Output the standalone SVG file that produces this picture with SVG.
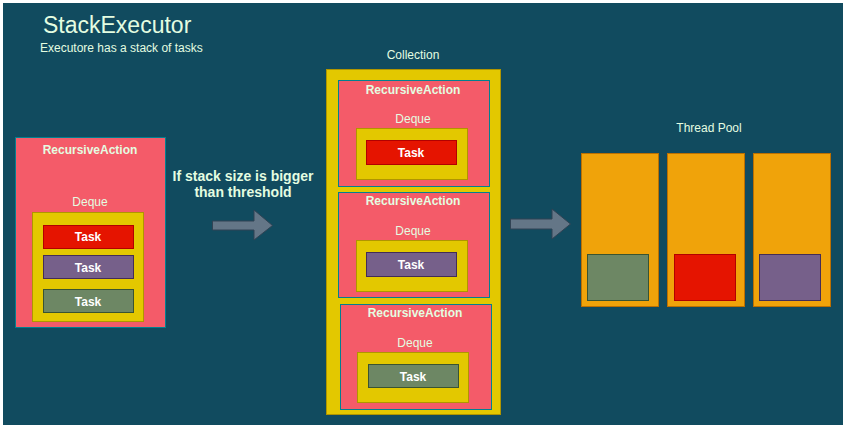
<svg xmlns="http://www.w3.org/2000/svg" width="847" height="429" viewBox="0 0 847 429">
<style>
text{font-family:"Liberation Sans",Arial,sans-serif;fill:#E4FDE1;text-anchor:middle}
.b{font-weight:bold}
.ra{fill:#F45B69;stroke:#028090;stroke-width:1}
.dq{fill:#E3C800;stroke:#B09500;stroke-width:1}
.red{fill:#E51400;stroke:#B20000;stroke-width:1}
.pur{fill:#76608A;stroke:#432D57;stroke-width:1}
.grn{fill:#6D8764;stroke:#3A5431;stroke-width:1}
.thr{fill:#F0A30A;stroke:#BD7000;stroke-width:1}
.arr{fill:#647687;stroke:#314354;stroke-width:1}
.task{font-size:12px;font-weight:bold;fill:#FFFFFF}
</style>
<rect x="3" y="3" width="840" height="422" fill="#114B5F"/>
<g id="title">
<text x="43" y="33" font-size="23" style="text-anchor:start">StackExecutor</text>
<text x="40" y="52" font-size="12" style="text-anchor:start">Executore has a stack of tasks</text>
</g>
<g id="left-action">
<rect class="ra" x="15.5" y="137.5" width="150" height="190"/>
<text class="b" x="90" y="154" font-size="12">RecursiveAction</text>
<text x="90" y="206" font-size="12">Deque</text>
<rect class="dq" x="32.5" y="212.5" width="111" height="109"/>
<rect class="red" x="43.5" y="225.5" width="90" height="23"/>
<text class="task" x="88" y="241">Task</text>
<rect class="pur" x="43.5" y="255.5" width="90" height="23"/>
<text class="task" x="88" y="272">Task</text>
<rect class="grn" x="43.5" y="289.5" width="90" height="23"/>
<text class="task" x="88" y="306">Task</text>
</g>
<g id="condition-label">
<text class="b" x="243" y="181" font-size="14">If stack size is bigger</text>
<text class="b" x="243" y="197" font-size="14">than threshold</text>
</g>
<g id="collection">
<text x="413" y="59" font-size="12">Collection</text>
<rect class="dq" x="326.5" y="69.5" width="174" height="345"/>
</g>
<g id="action-1">
<rect class="ra" x="338.5" y="80.5" width="151" height="106"/>
<text class="b" x="413" y="94" font-size="12">RecursiveAction</text>
<text x="413" y="123" font-size="12">Deque</text>
<rect class="dq" x="356.5" y="128.5" width="111" height="51"/>
<rect class="red" x="366.5" y="140.5" width="90" height="24"/>
<text class="task" x="411" y="157">Task</text>
</g>
<g id="action-2">
<rect class="ra" x="338.5" y="192.5" width="151" height="105"/>
<text class="b" x="413" y="205" font-size="12">RecursiveAction</text>
<text x="413" y="235" font-size="12">Deque</text>
<rect class="dq" x="356.5" y="240.5" width="111" height="51"/>
<rect class="pur" x="366.5" y="252.5" width="90" height="24"/>
<text class="task" x="411" y="269">Task</text>
</g>
<g id="action-3">
<rect class="ra" x="340.5" y="304.5" width="151" height="105"/>
<text class="b" x="415" y="317" font-size="12">RecursiveAction</text>
<text x="415" y="347" font-size="12">Deque</text>
<rect class="dq" x="357.5" y="352.5" width="111" height="50"/>
<rect class="grn" x="368.5" y="364.5" width="90" height="23"/>
<text class="task" x="413" y="381">Task</text>
</g>
<g id="thread-pool">
<text x="709" y="132" font-size="12">Thread Pool</text>
<rect class="thr" x="581.5" y="153.5" width="77" height="153"/>
<rect class="grn" x="587.5" y="254.5" width="61" height="46"/>
<rect class="thr" x="667.5" y="153.5" width="77" height="153"/>
<rect class="red" x="674.5" y="254.5" width="61" height="46"/>
<rect class="thr" x="753.5" y="153.5" width="77" height="153"/>
<rect class="pur" x="759.5" y="254.5" width="61" height="46"/>
</g>
<g id="connectors">
<polygon class="arr" points="212.5,221 254,221 254,210 272.5,225.5 254,240 254,230 212.5,230"/>
<polygon class="arr" points="510.5,219 552,219 552,209 570.5,224 552,239 552,229 510.5,229"/>
</g>
</svg>
